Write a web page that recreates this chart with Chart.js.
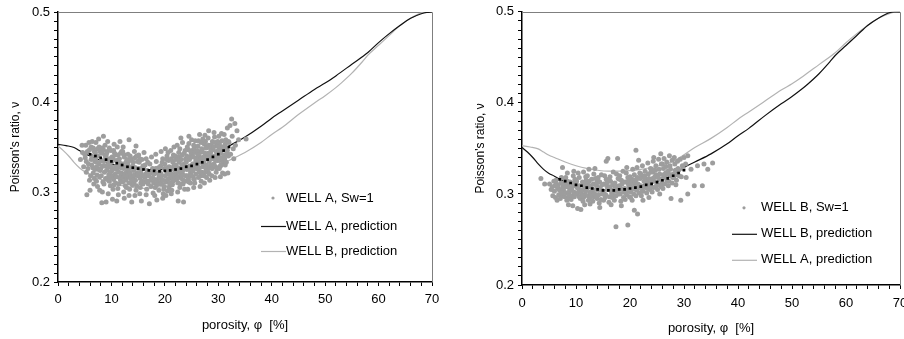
<!DOCTYPE html>
<html>
<head>
<meta charset="utf-8">
<script src="https://cdn.jsdelivr.net/npm/chart.js@4.4.0/dist/chart.umd.min.js"></script>
<style>
  html, body { margin: 0; padding: 0; background: #fff; overflow: hidden; }
  body { width: 904px; height: 339px; position: relative; }
  canvas { position: absolute; top: 0; }
  #left { left: 0; }
  #right { left: 452px; }
</style>
</head>
<body>
<canvas id="left" width="452" height="339"></canvas>
<canvas id="right" width="470" height="339"></canvas>
<script>
// model predictions (porosity %, Poisson's ratio)
const wellAPredX = [0, 1.5, 3, 4, 5, 6, 8, 10, 12, 14, 16, 18, 20, 22, 24, 26, 28, 30, 32, 35, 38, 40, 42, 45, 48, 50, 52, 55, 58, 60, 62, 64, 66, 68, 69, 70];
const wellAPredY = [0.353, 0.3515, 0.3495, 0.346, 0.3425, 0.340, 0.335, 0.331, 0.328, 0.326, 0.325, 0.325, 0.3255, 0.327, 0.329, 0.332, 0.336, 0.343, 0.351, 0.361, 0.373, 0.382, 0.39, 0.402, 0.414, 0.421, 0.429, 0.442, 0.455, 0.466, 0.476, 0.485, 0.493, 0.498, 0.4995, 0.5];
const wellBPredX = [0, 1, 2, 3, 4, 5, 6, 7, 8, 10, 12, 14, 16, 18, 20, 22, 24, 26, 28, 30, 32, 35, 38, 40, 42, 45, 48, 50, 52, 53, 55, 57, 58, 60, 62, 64, 66, 68, 69, 70];
const wellBPredY = [0.351, 0.346, 0.340, 0.333, 0.327, 0.3225, 0.3195, 0.316, 0.314, 0.310, 0.307, 0.305, 0.304, 0.305, 0.306, 0.309, 0.312, 0.316, 0.321, 0.329, 0.335, 0.344, 0.355, 0.364, 0.372, 0.386, 0.399, 0.407, 0.416, 0.421, 0.432, 0.445, 0.452, 0.463, 0.474, 0.485, 0.493, 0.499, 0.5, 0.5];

// fitted trends through the log data
const wellATrendX = [6, 7, 8, 9, 10, 11, 12, 13, 14, 15, 16, 17, 18, 19, 20, 21, 22, 23, 24, 25, 26, 27, 28, 29, 30, 31, 32];
const wellATrendY = [0.342, 0.340, 0.338, 0.336, 0.334, 0.332, 0.330, 0.328, 0.327, 0.326, 0.325, 0.324, 0.3235, 0.323, 0.3235, 0.324, 0.325, 0.326, 0.328, 0.329, 0.331, 0.333, 0.336, 0.339, 0.342, 0.346, 0.350];
const wellBTrendX = [7, 8, 9, 10, 11, 12, 13, 14, 15, 16, 17, 18, 19, 20, 21, 22, 23, 24, 25, 26, 27, 28, 29, 30];
const wellBTrendY = [0.316, 0.314, 0.312, 0.310, 0.309, 0.307, 0.306, 0.305, 0.304, 0.304, 0.304, 0.305, 0.305, 0.306, 0.307, 0.308, 0.310, 0.311, 0.313, 0.315, 0.317, 0.320, 0.323, 0.326];

// log measurements, Sw=1
const wellAPoints = [
  [4.2,.336],[4.5,.352],[4.8,.328],[4.6,.344],
  [5.1,.338],[5.3,.322],[5.5,.345],[5.2,.352],[5.7,.331],[5.9,.313],[5.4,.297],[5.8,.355],[5.6,.326],[5.0,.342],[5.3,.334],[5.9,.347],
  [6.1,.318],[6.3,.340],[6.5,.327],[6.2,.350],[6.7,.309],[6.9,.334],[6.4,.356],[6.6,.321],[6.8,.345],[6.0,.302],[6.3,.330],[6.8,.315],[6.2,.336],[6.6,.349],[6.9,.325],
  [7.0,.336],[7.2,.312],[7.4,.348],[7.6,.325],[7.8,.302],[7.1,.355],[7.3,.319],[7.5,.340],[7.7,.331],[7.9,.345],[7.4,.306],[7.2,.328],[7.6,.359],[7.8,.317],[7.0,.344],[7.3,.333],[7.7,.350],[7.9,.324],
  [8.0,.326],[8.2,.343],[8.4,.311],[8.6,.334],[8.8,.352],[8.1,.318],[8.3,.300],[8.5,.347],[8.7,.322],[8.9,.338],[8.2,.288],[8.5,.362],[8.6,.309],[8.4,.329],[8.9,.315],[8.1,.335],[8.3,.349],[8.7,.329],[8.8,.341],
  [9.0,.340],[9.2,.315],[9.4,.331],[9.6,.349],[9.8,.307],[9.1,.324],[9.3,.356],[9.5,.319],[9.7,.337],[9.9,.328],[9.4,.298],[9.6,.312],[9.2,.345],[9.8,.322],[9.0,.289],[9.1,.343],[9.3,.327],[9.5,.334],[9.7,.316],[9.9,.346],
  [10.0,.333],[10.2,.318],[10.4,.346],[10.6,.326],[10.8,.310],[10.1,.339],[10.3,.303],[10.5,.353],[10.7,.320],[10.9,.335],[10.2,.292],[10.6,.343],[10.4,.314],[10.8,.328],[10.5,.308],[10.1,.324],[10.3,.337],[10.7,.341],[10.9,.317],
  [11.0,.325],[11.2,.341],[11.4,.309],[11.6,.332],[11.8,.318],[11.1,.350],[11.3,.297],[11.5,.337],[11.7,.313],[11.9,.345],[11.4,.322],[11.2,.304],[11.6,.356],[11.8,.327],[11.0,.290],[11.1,.328],[11.3,.335],[11.5,.316],[11.7,.343],[11.9,.321],
  [12.0,.331],[12.2,.316],[12.4,.339],[12.6,.307],[12.8,.322],[12.1,.345],[12.3,.300],[12.5,.328],[12.7,.313],[12.9,.336],[12.4,.293],[12.2,.350],[12.6,.319],[12.8,.305],[12.3,.326],[12.1,.311],[12.3,.342],[12.5,.320],[12.7,.333],[12.9,.316],
  [13.0,.318],[13.2,.334],[13.4,.303],[13.6,.327],[13.8,.312],[13.1,.342],[13.3,.296],[13.5,.321],[13.7,.337],[13.9,.308],[13.3,.358],[13.6,.315],[13.2,.325],[13.8,.289],[13.1,.330],[13.3,.310],[13.5,.340],[13.7,.318],[13.9,.326],
  [14.0,.329],[14.2,.310],[14.4,.338],[14.6,.302],[14.8,.321],[14.1,.316],[14.3,.345],[14.5,.327],[14.7,.307],[14.9,.334],[14.4,.296],[14.6,.351],[14.2,.324],[14.1,.333],[14.3,.319],[14.5,.313],[14.7,.340],[14.9,.318],
  [15.0,.319],[15.2,.333],[15.4,.305],[15.6,.326],[15.8,.312],[15.1,.341],[15.3,.298],[15.5,.322],[15.7,.336],[15.9,.309],[15.4,.315],[15.6,.290],[15.1,.326],[15.3,.337],[15.5,.310],[15.7,.318],[15.9,.329],
  [16.0,.327],[16.2,.311],[16.4,.320],[16.6,.303],[16.8,.333],[16.1,.344],[16.3,.316],[16.5,.297],[16.7,.324],[16.9,.309],[16.5,.337],[16.1,.318],[16.3,.330],[16.7,.312],[16.9,.322],
  [17.0,.318],[17.2,.331],[17.4,.306],[17.6,.322],[17.8,.299],[17.1,.287],[17.5,.339],[17.3,.313],[17.7,.326],[17.9,.310],[17.3,.321],[17.7,.316],
  [18.0,.320],[18.2,.305],[18.4,.334],[18.6,.314],[18.8,.327],[18.1,.296],[18.3,.342],[18.5,.308],[18.7,.321],[18.9,.302],[18.5,.291],[18.1,.314],[18.3,.326],[18.7,.311],[18.9,.318],
  [19.0,.316],[19.2,.329],[19.4,.309],[19.6,.337],[19.8,.303],[19.1,.322],[19.3,.345],[19.5,.313],[19.7,.298],[19.9,.326],[19.4,.318],[19.6,.293],[19.1,.309],[19.3,.320],[19.5,.333],[19.7,.313],[19.9,.306],
  [20.0,.331],[20.2,.311],[20.4,.340],[20.6,.320],[20.8,.305],[20.1,.348],[20.3,.326],[20.5,.301],[20.7,.335],[20.9,.315],[20.4,.322],[20.6,.344],[20.2,.296],[20.8,.328],[20.1,.318],[20.3,.336],[20.5,.314],[20.7,.323],[20.9,.309],
  [21.0,.319],[21.2,.337],[21.4,.308],[21.6,.328],[21.8,.313],[21.1,.346],[21.3,.302],[21.5,.333],[21.7,.350],[21.9,.324],[21.4,.316],[21.6,.341],[21.2,.298],[21.8,.330],[21.0,.310],[21.1,.325],[21.3,.320],[21.5,.312],[21.7,.318],[21.9,.340],
  [22.0,.336],[22.2,.314],[22.4,.327],[22.6,.344],[22.8,.305],[22.1,.321],[22.3,.352],[22.5,.310],[22.7,.333],[22.9,.318],[22.4,.300],[22.6,.339],[22.2,.325],[22.8,.348],[22.5,.290],[22.1,.330],[22.3,.317],[22.5,.336],[22.7,.322],[22.9,.309],
  [23.0,.322],[23.2,.341],[23.4,.309],[23.6,.331],[23.8,.346],[23.1,.315],[23.3,.355],[23.5,.326],[23.7,.303],[23.9,.337],[23.4,.319],[23.6,.343],[23.2,.330],[23.8,.312],[23.0,.360],[23.5,.289],[23.1,.336],[23.3,.323],[23.5,.313],[23.7,.327],[23.9,.318],
  [24.0,.333],[24.2,.318],[24.4,.347],[24.6,.325],[24.8,.310],[24.1,.340],[24.3,.303],[24.5,.354],[24.7,.329],[24.9,.344],[24.4,.315],[24.6,.336],[24.2,.350],[24.8,.321],[24.5,.362],[24.3,.327],[24.1,.325],[24.3,.337],[24.5,.311],[24.7,.339],[24.9,.318],
  [25.0,.341],[25.2,.323],[25.4,.352],[25.6,.310],[25.8,.335],[25.1,.346],[25.3,.317],[25.5,.329],[25.7,.357],[25.9,.338],[25.4,.305],[25.6,.344],[25.2,.331],[25.8,.320],[25.0,.358],[25.5,.349],[25.1,.326],[25.3,.339],[25.5,.314],[25.7,.332],[25.9,.326],
  [26.0,.336],[26.2,.351],[26.4,.322],[26.6,.344],[26.8,.312],[26.1,.329],[26.3,.357],[26.5,.339],[26.7,.318],[26.9,.348],[26.4,.333],[26.6,.306],[26.2,.342],[26.8,.355],[26.0,.326],[26.5,.364],[26.1,.346],[26.3,.316],[26.5,.327],[26.7,.336],[26.9,.322],
  [27.0,.345],[27.2,.328],[27.4,.353],[27.6,.337],[27.8,.316],[27.1,.359],[27.3,.334],[27.5,.322],[27.7,.349],[27.9,.341],[27.4,.310],[27.6,.356],[27.2,.339],[27.8,.330],[27.5,.363],[27.1,.331],[27.3,.318],[27.5,.343],[27.7,.326],[27.9,.350],
  [28.0,.338],[28.2,.352],[28.4,.327],[28.6,.345],[28.8,.318],[28.1,.360],[28.3,.334],[28.5,.349],[28.7,.330],[28.9,.356],[28.4,.313],[28.6,.341],[28.2,.368],[28.8,.337],[28.0,.323],[28.1,.343],[28.3,.320],[28.5,.338],[28.7,.352],[28.9,.326],
  [29.0,.347],[29.2,.331],[29.4,.355],[29.6,.322],[29.8,.342],[29.1,.337],[29.3,.361],[29.5,.328],[29.7,.351],[29.9,.335],[29.4,.316],[29.6,.345],[29.2,.366],[29.8,.326],[29.1,.350],[29.3,.340],[29.5,.335],[29.7,.339],[29.9,.356],
  [30.0,.340],[30.2,.354],[30.4,.329],[30.6,.347],[30.8,.321],[30.1,.362],[30.3,.335],[30.5,.343],[30.7,.357],[30.9,.333],[30.4,.317],[30.6,.365],[30.2,.326],[30.1,.347],[30.3,.351],[30.5,.330],[30.7,.338],[30.9,.350],
  [31.0,.350],[31.2,.337],[31.4,.358],[31.6,.343],[31.8,.321],[31.1,.364],[31.3,.330],[31.5,.349],[31.7,.371],[31.9,.340],[31.2,.320],[31.1,.341],[31.3,.353],[31.5,.333],[31.7,.346],[31.9,.356],
  [32.0,.355],[32.3,.342],[32.6,.362],[32.8,.348],[32.2,.374],[32.5,.381],[32.9,.337],
  [33.2,.352],[33.5,.368],[33.8,.358],[33.1,.376],[35.2,.359]
];
const wellBPoints = [
  [3.5,.317],[4.2,.311],
  [5.1,.311],[5.4,.305],[5.7,.298],[5.9,.314],[5.6,.308],
  [6.0,.303],[6.2,.296],[6.4,.311],[6.6,.306],[6.8,.299],[6.3,.315],[6.7,.309],[6.5,.293],[6.1,.309],[6.9,.305],
  [7.0,.304],[7.2,.312],[7.4,.298],[7.6,.308],[7.8,.302],[7.1,.295],[7.3,.318],[7.5,.306],[7.7,.312],[7.9,.297],[7.5,.329],[7.3,.301],[7.7,.306],
  [8.0,.309],[8.2,.301],[8.4,.314],[8.6,.296],[8.8,.306],[8.1,.318],[8.3,.293],[8.5,.310],[8.7,.302],[8.9,.313],[8.4,.323],[8.6,.288],[8.2,.308],[8.8,.298],[8.0,.316],
  [9.0,.305],[9.2,.298],[9.4,.312],[9.6,.302],[9.8,.316],[9.1,.294],[9.3,.308],[9.5,.320],[9.7,.297],[9.9,.309],[9.4,.287],[9.6,.325],[9.2,.304],[9.8,.301],
  [10.0,.311],[10.2,.300],[10.4,.306],[10.6,.318],[10.8,.295],[10.1,.314],[10.3,.284],[10.5,.302],[10.7,.309],[10.9,.283],[10.4,.323],[10.8,.304],[10.2,.307],[10.6,.297],[10.0,.315],
  [11.0,.301],[11.2,.313],[11.4,.296],[11.6,.307],[11.8,.319],[11.1,.304],[11.3,.292],[11.5,.310],[11.7,.299],[11.9,.315],[11.4,.324],[11.6,.288],[11.2,.298],[11.8,.303],
  [12.0,.306],[12.2,.298],[12.4,.314],[12.6,.302],[12.8,.309],[12.1,.320],[12.3,.293],[12.5,.308],[12.7,.296],[12.9,.316],[12.4,.327],[12.6,.289],[12.2,.310],[12.8,.300],[12.0,.314],
  [13.0,.303],[13.2,.311],[13.4,.297],[13.6,.317],[13.8,.305],[13.1,.292],[13.3,.322],[13.5,.300],[13.7,.310],[13.9,.295],[13.5,.328],[13.2,.305],[13.8,.312],
  [14.0,.308],[14.2,.299],[14.4,.313],[14.6,.294],[14.8,.304],[14.1,.318],[14.3,.290],[14.5,.306],[14.7,.321],[14.9,.300],[14.4,.285],[14.2,.304],[14.8,.310],[14.0,.316],
  [15.0,.302],[15.2,.311],[15.4,.296],[15.6,.316],[15.8,.305],[15.1,.293],[15.3,.320],[15.5,.299],[15.7,.309],[15.9,.339],[15.6,.336],[15.2,.300],[15.8,.313],
  [16.0,.306],[16.2,.297],[16.4,.314],[16.6,.301],[16.8,.310],[16.1,.291],[16.3,.319],[16.5,.305],[16.7,.296],[16.9,.324],[16.5,.288],[16.2,.308],[16.8,.299],[16.0,.315],
  [17.0,.304],[17.2,.312],[17.4,.298],[17.6,.308],[17.8,.317],[17.1,.293],[17.3,.303],[17.5,.322],[17.7,.339],[17.4,.264],[17.9,.300],[17.2,.306],[17.8,.303],
  [18.0,.309],[18.2,.300],[18.4,.315],[18.6,.305],[18.8,.296],[18.1,.320],[18.3,.292],[18.5,.311],[18.7,.325],[18.9,.302],[18.4,.287],[18.2,.307],[18.8,.313],[18.0,.316],
  [19.0,.306],[19.2,.313],[19.4,.299],[19.6,.318],[19.8,.308],[19.1,.294],[19.3,.323],[19.5,.303],[19.7,.311],[19.9,.297],[19.6,.266],[19.4,.329],[19.2,.301],[19.8,.315],
  [20.0,.310],[20.2,.302],[20.4,.316],[20.6,.306],[20.8,.321],[20.1,.296],[20.3,.312],[20.5,.327],[20.7,.300],[20.9,.315],[20.8,.282],[20.4,.293],[20.2,.307],[20.8,.311],[20.0,.319],
  [21.0,.313],[21.2,.304],[21.4,.318],[21.6,.308],[21.8,.323],[21.1,.298],[21.3,.329],[21.5,.311],[21.7,.301],[21.9,.317],[21.1,.348],[21.4,.278],[21.6,.337],[21.2,.316],[21.8,.307],
  [22.0,.309],[22.2,.319],[22.4,.303],[22.6,.314],[22.8,.325],[22.1,.298],[22.3,.331],[22.5,.307],[22.7,.320],[22.9,.312],[22.4,.293],[22.2,.303],[22.8,.317],[22.0,.322],
  [23.0,.316],[23.2,.306],[23.4,.322],[23.6,.311],[23.8,.328],[23.1,.301],[23.3,.334],[23.5,.317],[23.7,.305],[23.9,.324],[23.5,.296],[23.2,.313],[23.8,.308],
  [24.0,.313],[24.2,.324],[24.4,.307],[24.6,.319],[24.8,.331],[24.1,.302],[24.3,.336],[24.5,.314],[24.7,.326],[24.9,.309],[24.4,.340],[24.2,.317],[24.8,.321],[24.0,.327],
  [25.0,.320],[25.2,.310],[25.4,.327],[25.6,.316],[25.8,.333],[25.1,.305],[25.3,.338],[25.5,.322],[25.7,.344],[25.9,.312],[25.5,.300],[25.2,.318],[25.8,.308],
  [26.0,.317],[26.2,.328],[26.4,.311],[26.6,.323],[26.8,.335],[26.1,.306],[26.3,.339],[26.5,.319],[26.7,.330],[26.9,.314],[26.2,.321],[26.8,.316],[26.0,.333],
  [27.0,.325],[27.2,.314],[27.4,.331],[27.6,.320],[27.8,.337],[27.1,.309],[27.3,.342],[27.5,.327],[27.6,.295],[27.9,.318],[27.2,.322],[27.8,.312],
  [28.0,.322],[28.3,.333],[28.6,.315],[28.9,.328],[28.2,.340],[28.5,.310],[28.8,.336],[28.1,.318],[28.4,.326],[28.7,.321],
  [29.0,.326],[29.4,.293],[29.3,.338],[29.7,.331],[29.5,.319],[29.1,.320],[29.8,.328],
  [30.0,.340],[30.7,.342],[30.7,.300],[30.3,.333],[30.4,.318],[31.3,.327],[31.9,.309],[32.5,.331],[33.4,.309],[33.7,.333],[34.4,.327],[35.3,.334]
];

const FONT = "'Liberation Sans', Arial, sans-serif";
const DOT_GREY = "#9d9d9d";
const LINE_GREY = "#b3b3b3";
const LINE_BLACK = "#111";

Chart.defaults.font.family = FONT;
Chart.defaults.font.size = 13;
Chart.defaults.color = "#000";

const toPoints = (xs, ys) => xs.map((x, i) => ({ x: x, y: ys[i] }));

// grey top/right frame of the plot area
const framePlugin = {
  id: "frame",
  beforeDatasetsDraw(chart) {
    const { ctx, chartArea: a } = chart;
    ctx.save();
    ctx.strokeStyle = "#7f7f7f";
    ctx.lineWidth = 1;
    ctx.beginPath();
    ctx.moveTo(a.left, Math.round(a.top) + 0.5);
    ctx.lineTo(Math.round(a.right) + 0.5, Math.round(a.top) + 0.5);
    ctx.lineTo(Math.round(a.right) + 0.5, a.bottom);
    ctx.stroke();
    ctx.restore();
  },
};

// legend drawn inside the plot, like the original figure
const insideLegend = {
  id: "insideLegend",
  afterDatasetsDraw(chart, args, opts) {
    const { ctx, chartArea: a } = chart;
    ctx.save();
    ctx.font = "13px " + FONT;
    ctx.textBaseline = "middle";
    opts.items.forEach((idx, i) => {
      const ds = chart.data.datasets[idx];
      const y = a.top + opts.rows[i];
      const x0 = a.left + opts.lineX;
      if (ds.showLine) {
        ctx.strokeStyle = ds.borderColor;
        ctx.lineWidth = ds.borderWidth;
        ctx.beginPath();
        ctx.moveTo(x0, y + 0.5);
        ctx.lineTo(x0 + 25, y + 0.5);
        ctx.stroke();
      } else {
        ctx.fillStyle = ds.backgroundColor;
        ctx.beginPath();
        ctx.arc(x0 + 12, y, 1.6, 0, Math.PI * 2);
        ctx.fill();
      }
      ctx.fillStyle = "#000";
      ctx.fillText(ds.label, a.left + opts.textX, y);
    });
    ctx.restore();
  },
};

function makeChart(el, cfg) {
  const datasets = [
    {
      label: "trend",
      data: toPoints(cfg.trendX, cfg.trendY),
      showLine: false,
      pointStyle: "rect",
      pointRadius: 1.9,
      backgroundColor: "#000",
      borderWidth: 0,
      order: 0,
    },
    {
      label: cfg.cloudLabel,
      data: cfg.cloud.map(([x, y]) => ({ x, y })),
      showLine: false,
      pointRadius: 2.5,
      backgroundColor: DOT_GREY,
      borderWidth: 0,
      order: 1,
    },
    {
      label: cfg.blackLabel,
      data: toPoints(cfg.blackX, cfg.blackY),
      showLine: true,
      pointRadius: 0,
      borderColor: LINE_BLACK,
      borderWidth: 1.2,
      cubicInterpolationMode: "monotone",
      order: 2,
    },
    {
      label: cfg.greyLabel,
      data: toPoints(cfg.greyX, cfg.greyY),
      showLine: true,
      pointRadius: 0,
      borderColor: LINE_GREY,
      borderWidth: 1.2,
      cubicInterpolationMode: "monotone",
      order: 3,
    },
  ];

  new Chart(el, {
    type: "scatter",
    data: { datasets: datasets },
    plugins: [framePlugin, insideLegend],
    options: {
      responsive: false,
      animation: false,
      events: [],
      layout: { padding: { top: cfg.padTop, right: cfg.padRight, left: 0, bottom: 0 } },
      scales: {
        x: {
          type: "linear",
          min: 0,
          max: 70,
          afterFit: (s) => { s.height = cfg.xAxisHeight; },
          border: { color: "#000", width: 1.5 },
          grid: { drawOnChartArea: false, drawTicks: true, tickLength: 4, tickColor: "#000", tickWidth: 1 },
          ticks: {
            stepSize: 2,
            autoSkip: false,
            maxRotation: 0,
            minRotation: 0,
            padding: cfg.xTickPad,
            callback: (v) => (v % 10 === 0 ? String(v) : ""),
          },
          title: { display: true, text: "porosity, φ  [%]", padding: { top: 0, bottom: cfg.xTitlePad } },
        },
        y: {
          type: "linear",
          min: 0.2,
          max: 0.5,
          afterFit: (s) => { s.width = cfg.yAxisWidth; },
          border: { color: "#000", width: 1.5 },
          grid: { drawOnChartArea: false, drawTicks: true, tickLength: 4, tickColor: "#000", tickWidth: 1 },
          ticks: {
            stepSize: 0.01,
            autoSkip: false,
            padding: 4,
            callback: (v) => (Math.round(v * 100) % 10 === 0 ? v.toFixed(1) : ""),
          },
          title: { display: true, text: "Poisson's ratio, ν", font: { size: 12 }, padding: { top: cfg.yTitlePad, bottom: 0 } },
        },
      },
      plugins: {
        legend: { display: false },
        tooltip: { enabled: false },
        insideLegend: { items: [1, 2, 3], lineX: cfg.legendLineX, textX: cfg.legendTextX, rows: cfg.legendRows },
      },
    },
  });
}

makeChart(document.getElementById("left"), {
  cloudLabel: "WELL A, Sw=1",
  cloud: wellAPoints,
  trendX: wellATrendX, trendY: wellATrendY,
  blackLabel: "WELL A, prediction", blackX: wellAPredX, blackY: wellAPredY,
  greyLabel: "WELL B, prediction", greyX: wellBPredX, greyY: wellBPredY,
  padTop: 12, padRight: 20, xAxisHeight: 57, yAxisWidth: 58,
  xTickPad: 6, xTitlePad: 6, yTitlePad: 8,
  legendLineX: 203, legendTextX: 228, legendRows: [186, 214, 239],
});

makeChart(document.getElementById("right"), {
  cloudLabel: "WELL B, Sw=1",
  cloud: wellBPoints,
  trendX: wellBTrendX, trendY: wellBTrendY,
  blackLabel: "WELL B, prediction", blackX: wellBPredX, blackY: wellBPredY,
  greyLabel: "WELL A, prediction", greyX: wellAPredX, greyY: wellAPredY,
  padTop: 11, padRight: 22, xAxisHeight: 54, yAxisWidth: 70,
  xTickPad: 6.5, xTitlePad: 3, yTitlePad: 21,
  legendLineX: 210, legendTextX: 239, legendRows: [196, 222, 248],
});
</script>
</body>
</html>
